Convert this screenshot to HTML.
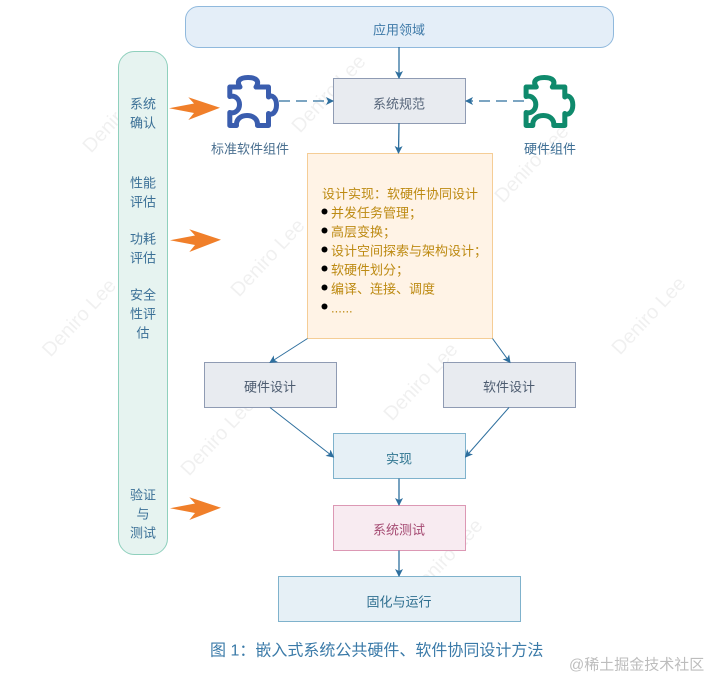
<!DOCTYPE html>
<html><head><meta charset="utf-8"><style>
html,body{margin:0;padding:0;background:#fff}
svg{display:block}
text{font-family:"Liberation Sans","Noto Sans CJK SC",sans-serif;font-size:13px;dominant-baseline:central}
.m{text-anchor:middle}
.l{fill:#3a6f96}
.d{fill:#bd8a12}
.wm{font-size:20px;fill:#000;fill-opacity:.06;text-anchor:middle}
</style></head><body>
<svg width="724" height="693" viewBox="0 0 724 693" xmlns="http://www.w3.org/2000/svg">
<defs>
<marker id="a" markerWidth="8" markerHeight="8" refX="7" refY="4" orient="auto" markerUnits="userSpaceOnUse"><path d="M0 0L8 4L0 8L2 4Z" fill="#2e6f9e"/></marker>
</defs>

<g>
<text class="wm" transform="translate(120 114) rotate(-47)">Deniro Lee</text>
<text class="wm" transform="translate(329 94) rotate(-47)">Deniro Lee</text>
<text class="wm" transform="translate(532 164) rotate(-47)">Deniro Lee</text>
<text class="wm" transform="translate(79.500 318) rotate(-47)">Deniro Lee</text>
<text class="wm" transform="translate(268 258) rotate(-47)">Deniro Lee</text>
<text class="wm" transform="translate(649 316) rotate(-47)">Deniro Lee</text>
<text class="wm" transform="translate(218 437) rotate(-47)">Deniro Lee</text>
<text class="wm" transform="translate(421 382) rotate(-47)">Deniro Lee</text>
<text class="wm" transform="translate(446 558) rotate(-47)">Deniro Lee</text>
</g>

<rect x="185.5" y="6.5" width="428" height="41" rx="13" fill="#e4eef8" stroke="#90b9dd"/>
<rect x="118.5" y="51.5" width="49" height="503" rx="16" fill="#e6f3f0" stroke="#8fd0bd"/>
<rect x="333.5" y="78.5" width="132" height="45" fill="#e8ebf0" stroke="#8f9bb3"/>
<rect x="307.5" y="153.5" width="185" height="185" fill="#fff3e6" stroke="#f5cd96"/>
<rect x="204.5" y="362.5" width="132" height="45" fill="#e8ebf0" stroke="#8f9bb3"/>
<rect x="443.5" y="362.5" width="132" height="45" fill="#e8ebf0" stroke="#8f9bb3"/>
<rect x="333.5" y="433.5" width="132" height="45" fill="#e6f0f6" stroke="#7fb2cc"/>
<rect x="333.5" y="505.5" width="132" height="45" fill="#f8ebf1" stroke="#dc98b4"/>
<rect x="278.5" y="576.5" width="242" height="45" fill="#e6f0f6" stroke="#7fb2cc"/>

<g fill="none" stroke="#2e6f9e" stroke-width="1">
<path d="M399 47V78" marker-end="url(#a)" stroke-width="1.3"/>
<path d="M399 123L398.5 153" marker-end="url(#a)" stroke-width="1.3"/>
<path d="M279 101H333" stroke-dasharray="11 6" marker-end="url(#a)" stroke-width="1.2"/>
<path d="M524 101H466" stroke-dasharray="11 6" marker-end="url(#a)" stroke-width="1.2"/>
<path d="M307.5 338.5L270 362.5" marker-end="url(#a)"/>
<path d="M492.5 338.5L510 362.5" marker-end="url(#a)"/>
<path d="M270 407.5L333.5 457" marker-end="url(#a)"/>
<path d="M509 407.5L465.5 457" marker-end="url(#a)"/>
<path d="M399 478.5V505" marker-end="url(#a)" stroke-width="1.3"/>
<path d="M399 550.5V576" marker-end="url(#a)" stroke-width="1.3"/>
</g>

<path d="M229.800 87H240C236 81 240 77.500 248 77.500C256 77.500 260 81 256 87H268.500V97C272 94 276.500 98 276.500 105C276.500 112 272 116 268.500 113.500V125.500H257.500C258 119 253 115.500 247 115.500C241 115.500 236 119 236.500 125.500H229.800V112.500C235 114 239.500 110 239.500 104.500C239.500 99 235 95 229.800 96.500Z" fill="#fff" stroke="#3a5dae" stroke-width="5" stroke-linejoin="round"/>
<path transform="translate(296.300 0)" d="M229.800 87H240C236 81 240 77.500 248 77.500C256 77.500 260 81 256 87H268.500V97C272 94 276.500 98 276.500 105C276.500 112 272 116 268.500 113.500V125.500H257.500C258 119 253 115.500 247 115.500C241 115.500 236 119 236.500 125.500H229.800V112.500C235 114 239.500 110 239.500 104.500C239.500 99 235 95 229.800 96.500Z" fill="#fff" stroke="#0f8a6c" stroke-width="5" stroke-linejoin="round"/>

<g fill="#f07f2a">
<path d="M169 108.300L194 103.500L188.300 97.300L220 107.700L188.300 120L194 113Z"/>
<path d="M170 240.300L195 235.500L189.300 229.300L221 239.700L189.300 252L195 245Z"/>
<path d="M170 508.300L195 503.500L189.300 497.300L221 507.700L189.300 520L195 513Z"/>
</g>

<text class="m" x="399" y="30" fill="#3f7aa8">应用领域</text>
<text class="m" x="399" y="104" fill="#56657a">系统规范</text>
<text class="m" x="250" y="149" fill="#4a6f8f">标准软件组件</text>
<text class="m" x="550" y="149" fill="#3f6f95">硬件组件</text>
<text class="m" x="270" y="387" fill="#4d5c70">硬件设计</text>
<text class="m" x="509" y="387" fill="#4d5c70">软件设计</text>
<text class="m" x="399" y="459" fill="#2f7590">实现</text>
<text class="m" x="399" y="530" fill="#a54a72">系统测试</text>
<text class="m" x="399" y="602" fill="#2f6f90">固化与运行</text>

<text class="m l" x="143" y="104">系统</text>
<text class="m l" x="143" y="123">确认</text>
<text class="m l" x="143" y="183">性能</text>
<text class="m l" x="143" y="202">评估</text>
<text class="m l" x="143" y="239">功耗</text>
<text class="m l" x="143" y="258">评估</text>
<text class="m l" x="143" y="295">安全</text>
<text class="m l" x="143" y="314">性评</text>
<text class="m l" x="143" y="333">估</text>
<text class="m l" x="143" y="495">验证</text>
<text class="m l" x="143" y="514">与</text>
<text class="m l" x="143" y="533">测试</text>

<text class="d" x="322" y="194">设计实现：软硬件协同设计</text>
<text class="d" x="331" y="213">并发任务管理；</text>
<text class="d" x="331" y="232">高层变换；</text>
<text class="d" x="331" y="251">设计空间探索与架构设计；</text>
<text class="d" x="331" y="270">软硬件划分；</text>
<text class="d" x="331" y="289">编译、连接、调度</text>
<text class="d" x="331" y="308">......</text>
<g fill="#000">
<circle cx="324.500" cy="211.500" r="3"/><circle cx="324.500" cy="230.500" r="3"/><circle cx="324.500" cy="249.500" r="3"/><circle cx="324.500" cy="268.500" r="3"/><circle cx="324.500" cy="287.500" r="3"/><circle cx="324.500" cy="306.500" r="3"/>
</g>

<text x="210" y="651" fill="#3a7aa8" style="font-size:16px">图 1：嵌入式系统公共硬件、软件协同设计方法</text>
<text x="569" y="665" fill="#bdbdbd" style="font-size:15px">@稀土掘金技术社区</text>
</svg>
</body></html>
